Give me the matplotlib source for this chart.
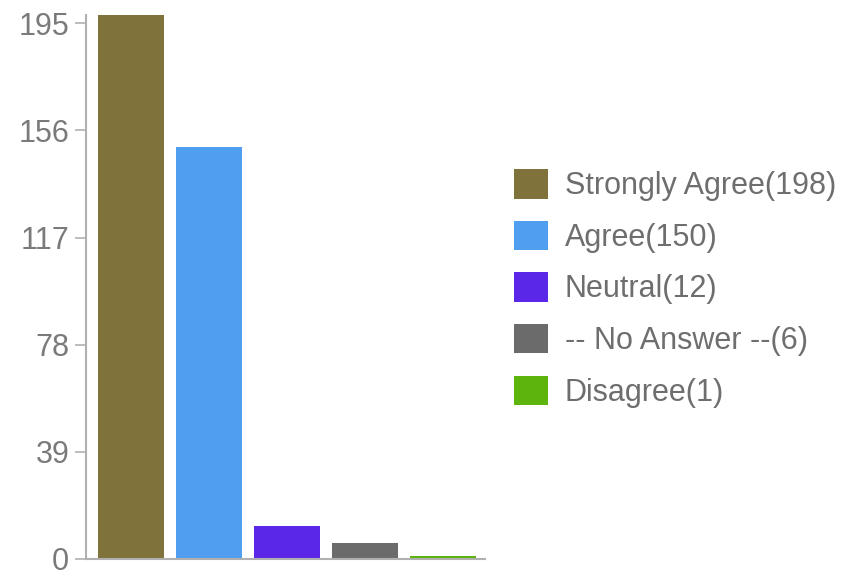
import matplotlib.pyplot as plt
from matplotlib.patches import Patch

categories = ["Strongly Agree", "Agree", "Neutral", "-- No Answer --", "Disagree"]
counts = [198, 150, 12, 6, 1]
colors = ["#7f723b", "#4f9eef", "#5a26e8", "#6b6b6b", "#5db40d"]
yticks = [0, 39, 78, 117, 156, 195]

plt.rcParams["font.family"] = ["Liberation Sans", "DejaVu Sans"]

fig = plt.figure(figsize=(8.54, 5.71), dpi=100)
ax = fig.add_axes([86 / 854, 1 - 559 / 571, (485 - 86) / 854, (559 - 15) / 571])

x = range(len(categories))
ax.bar(x, counts, width=0.846, color=colors)

ax.set_xlim(-0.577, 4.54)
ax.set_ylim(0, 198)
ax.set_yticks(yticks)
ax.set_xticks([])

for side in ("top", "right"):
    ax.spines[side].set_visible(False)
for side in ("left", "bottom"):
    ax.spines[side].set_color("#b0b0b0")
    ax.spines[side].set_linewidth(1.5)
ax.tick_params(axis="y", length=8, width=1.2, color="#b0b0b0",
               labelcolor="#7a7a7a", labelsize=22, pad=4)

handles = [Patch(facecolor=c, edgecolor="none") for c in colors]
labels = [f"{c}({n})" for c, n in zip(categories, counts)]
fig.legend(handles, labels, loc="upper left", bbox_to_anchor=(502 / 854, 1 - 157 / 571),
           frameon=False, fontsize=22, labelcolor="#6e6e6e",
           handlelength=1.1, handleheight=1.1, handletextpad=0.55,
           labelspacing=0.64, borderaxespad=0)

fig.savefig("out.png", dpi=100)
